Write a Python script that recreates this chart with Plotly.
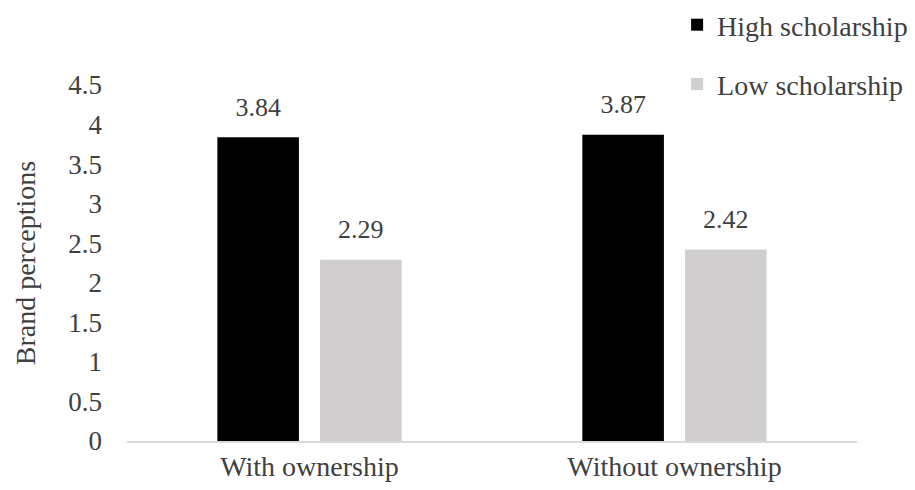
import plotly.graph_objects as go

categories = ["With ownership", "Without ownership"]
high = [3.84, 3.87]
low = [2.29, 2.42]
series_names = ["High scholarship", "Low scholarship"]
y_ticks = [0, 0.5, 1, 1.5, 2, 2.5, 3, 3.5, 4, 4.5]
y_tick_labels = ["0", "0.5", "1", "1.5", "2", "2.5", "3", "3.5", "4", "4.5"]

FONT = "Liberation Serif, Times New Roman, serif"
TXT = "#404040"
# value label, with a small spacer line underneath to lift it above the bar
label_tpl = '<span style="font-size:26px">%{y:.2f}</span><br> '

fig = go.Figure()
fig.add_trace(go.Bar(
    x=categories, y=high, name=series_names[0], legendgroup="a",
    marker=dict(color="#000000", line=dict(width=0)),
    texttemplate=label_tpl, textposition="outside", cliponaxis=False,
    textfont=dict(family=FONT, size=12, color=TXT),
    hoverinfo="skip",
))
fig.add_trace(go.Bar(
    x=categories, y=low, name=series_names[1], legendgroup="b",
    marker=dict(color="#D0CECE", line=dict(width=0)),
    texttemplate=label_tpl, textposition="outside", cliponaxis=False,
    textfont=dict(family=FONT, size=12, color=TXT),
    hoverinfo="skip",
))

fig.update_layout(
    width=915, height=490,
    margin=dict(l=127, r=58, t=85, b=49, autoexpand=False),
    paper_bgcolor="white", plot_bgcolor="white",
    barmode="group", bargap=0.437, bargroupgap=0.206,
    font=dict(family=FONT, color=TXT, size=26),
    legend=dict(
        xref="container", yref="container",
        x=0.740, y=1.0, xanchor="left", yanchor="top",
        font=dict(family=FONT, size=28, color=TXT),
        traceorder="grouped", tracegroupgap=20,
        bgcolor="rgba(0,0,0,0)",
    ),
    xaxis=dict(
        showgrid=False, showline=True, linecolor="#D9D9D9", linewidth=1.5,
        ticks="", tickfont=dict(family=FONT, size=28, color=TXT),
        zeroline=False,
    ),
    yaxis=dict(
        range=[0, 4.5], tickvals=y_ticks, ticktext=y_tick_labels,
        showgrid=False, showline=False, zeroline=False, ticks="",
        ticklabelstandoff=24,
        tickfont=dict(family=FONT, size=27, color=TXT),
        title=dict(text="Brand perceptions", font=dict(family=FONT, size=28, color=TXT), standoff=24),
    ),
)

fig.write_html("out.html")
